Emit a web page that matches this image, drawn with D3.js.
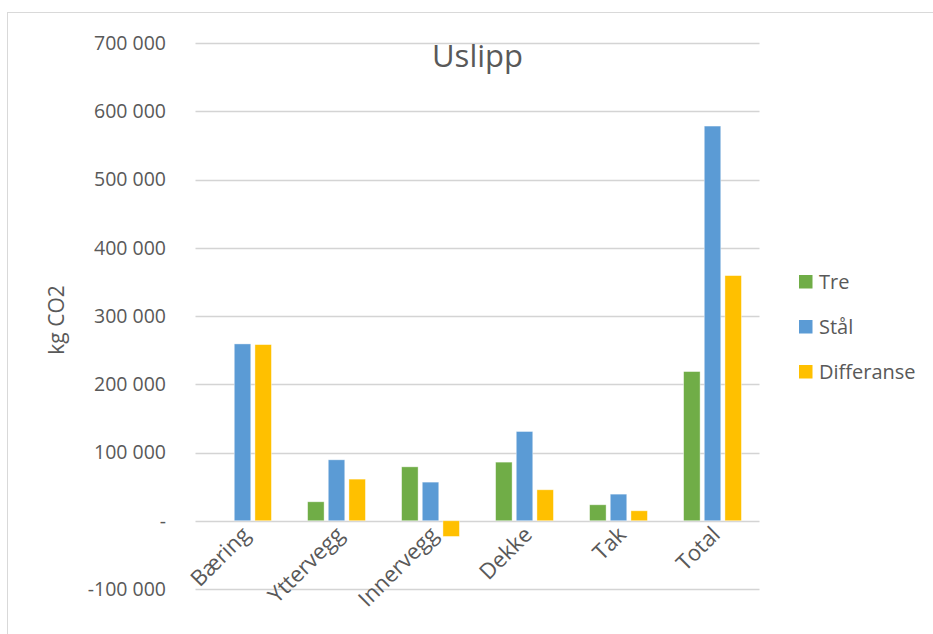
<!DOCTYPE html>
<html>
<head>
<meta charset="utf-8">
<script src="https://cdn.jsdelivr.net/npm/d3@7"></script>
<style>
  body { margin: 0; background: #fff; }
  text { font-family: "Open Sans", "Noto Sans", sans-serif; fill: #595959; }
</style>
</head>
<body>
<div id="chart"></div>
<script>
// data
const categories = ["Bæring", "Yttervegg", "Innervegg", "Dekke", "Tak", "Total"];
const seriesNames = ["Tre", "Stål", "Differanse"];
const tre = [0, 27800, 79000, 85900, 23400, 218600];
const staal = [259100, 89300, 56600, 130800, 39000, 578300];
const differanse = [258100, 61000, -23000, 45400, 14600, 359200];
const yTicks = [-100000, 0, 100000, 200000, 300000, 400000, 500000, 600000, 700000];
const colors = ["#70AD47", "#5B9BD5", "#FFC000"];

const width = 933, height = 634;
const svg = d3.select("#chart").append("svg")
    .attr("width", width)
    .attr("height", height);

// chart frame
svg.append("rect")
    .attr("x", 7.5).attr("y", 12.5)
    .attr("width", width + 10).attr("height", height + 10)
    .attr("fill", "none")
    .attr("stroke", "#d9d9d9");

const y = d3.scaleLinear().domain([-100000, 700000]).range([589, 43]);
const x0 = d3.scaleBand().domain(categories).range([195.5, 759.5]);
const x1 = d3.scaleBand().domain(seriesNames).range([-31, 31]);

// excel style: space as thousands separator, zero as a dash, plain hyphen
const fmt = v => v === 0 ? "-" : d3.format(",")(v).replace(/,/g, " ").replace("\u2212", "-");

// gridlines
svg.append("g")
    .selectAll("line")
    .data(yTicks)
    .enter()
    .append("line")
    .attr("x1", 195.5).attr("x2", 759.5)
    .attr("y1", d => Math.round(y(d)) + 0.5)
    .attr("y2", d => Math.round(y(d)) + 0.5)
    .attr("stroke", "#d4d4d4")
    .attr("stroke-width", 1.3);

// y tick labels
svg.append("g")
    .selectAll("text")
    .data(yTicks)
    .enter()
    .append("text")
    .attr("x", 166)
    .attr("y", d => y(d))
    .attr("dy", "0.35em")
    .attr("text-anchor", "end")
    .style("font-size", "19.5px")
    .text(fmt);

// y axis title
svg.append("text")
    .attr("transform", "translate(64,320) rotate(-90)")
    .attr("text-anchor", "middle")
    .style("font-size", "21px")
    .text("kg CO2");

// title
svg.append("text")
    .attr("x", 477.5).attr("y", 67)
    .attr("text-anchor", "middle")
    .style("font-size", "31px")
    .text("Uslipp");

// bars
const values = [tre, staal, differanse];
seriesNames.forEach((name, s) => {
    svg.append("g")
        .selectAll("rect")
        .data(values[s])
        .enter()
        .append("rect")
        .attr("x", (d, i) => x0(categories[i]) + x0.bandwidth() / 2 + x1(name) + 2.1)
        .attr("width", 16.5)
        .attr("y", d => y(Math.max(0, d)))
        .attr("height", d => Math.abs(y(d) - y(0)))
        .attr("fill", colors[s])
        .attr("stroke", "#fff")
        .attr("stroke-opacity", 0.5)
        .attr("stroke-width", 0.8);
});

// x labels
svg.append("g")
    .selectAll("text")
    .data(categories)
    .enter()
    .append("text")
    .attr("text-anchor", "end")
    .attr("transform", d => `translate(${x0(d) + x0.bandwidth() / 2 + 9},${536}) rotate(-45)`)
    .style("font-size", "22px")
    .text(d => d);

// legend
const legend = svg.append("g")
    .selectAll("g")
    .data(seriesNames)
    .enter()
    .append("g")
    .attr("transform", (d, i) => `translate(799,${275 + i * 45})`);
legend.append("rect")
    .attr("width", 13.5).attr("height", 13.5)
    .attr("fill", (d, i) => colors[i]);
legend.append("text")
    .attr("x", 20).attr("y", 7)
    .attr("dy", "0.36em")
    .style("font-size", "20px")
    .text(d => d);
</script>
</body>
</html>
